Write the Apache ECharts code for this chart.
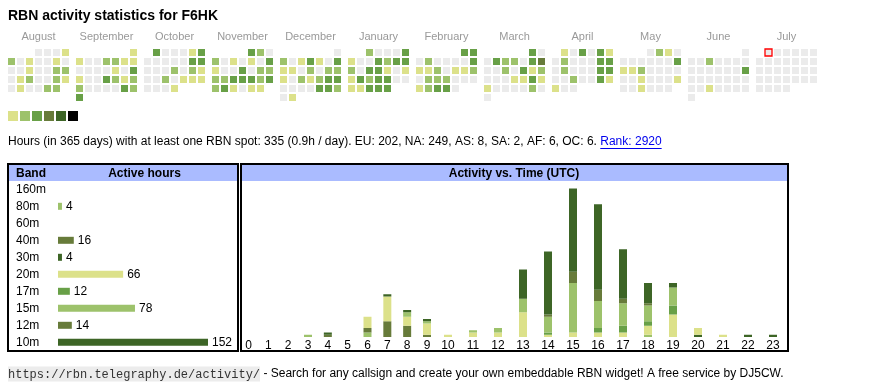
<!DOCTYPE html>
<html><head><meta charset="utf-8">
<script src="https://cdn.jsdelivr.net/npm/echarts@6/dist/echarts.min.js"></script>
<style>html,body{margin:0;padding:0;background:#fff;}#c{width:870px;height:390px;}</style>
</head><body><div id="c"></div>
<script>
// ---------- DATA ----------
const months = ['August','September','October','November','December','January','February','March','April','May','June','July'];
const monthYears = [2024,2024,2024,2024,2024,2025,2025,2025,2025,2025,2025,2025];
const monthNums = [7,8,9,10,11,0,1,2,3,4,5,6];
// activity level per day (0 = none, 1..5)
const lvAug = [0,0,0,1, 2,0,1,0,0,1,0, 0,0,1,0,0,2,2, 0,1,2,0,0,2,1, 0,1,0,0,2,2];
const lvSep = [1, 1,0,0,2,2,1,1, 0,0,0,0,1,0,3, 1,0,0,3,2,1,2, 2,0,0,0,0,3,2, 3];
const lvOct = [3,0,0,0,1,3, 0,0,0,0,0,3,3, 0,0,0,2,0,2,1, 0,0,2,0,1,1,1, 0,0,0,1];
const lvNov = [3,2,0, 2,0,1,0,1,0,3, 1,0,0,3,0,2,2, 2,2,3,3,3,2,3, 2,3,1,0,1,1];
const lvDec = [0, 2,0,1,3,1,0,3, 1,1,0,2,0,2,2, 1,0,2,1,2,3,3, 0,0,0,0,3,3,2, 0,1];
const lvJan = [2,0,0,0,3, 1,0,0,3,2,3,3, 2,0,3,3,1,0,1, 1,3,2,3,3,0,0, 1,1,3,3,3];
const lvFeb = [3,3, 0,2,0,0,0,0,3, 1,1,2,0,1,1,2, 0,2,2,2,0,0,0, 1,2,3,3,0];
const lvMar = [3,0, 0,3,2,2,0,3,4, 0,0,2,0,3,1,2, 0,0,0,1,1,3,1, 1,0,0,0,0,2,0, 0];
const lvApr = [1,0,3,0,3,1, 0,2,0,0,0,3,3, 0,2,0,0,0,3,3, 0,0,2,0,0,3,1, 1,0,0];
const lvMay = [0,2,1,0, 0,0,0,0,0,0,3, 1,1,2,0,0,0,0, 0,0,1,0,0,0,1, 0,0,1,0,0,0];
const lvJun = [0, 0,0,2,0,0,0,0, 0,0,0,0,0,0,3, 0,0,0,0,0,0,0, 0,0,1,0,0,0,0, 0];
const lvJul = [0,0,0,0,0,0,0,0,0,0,0,0,0,0,0,0,0,0,0,0,0,0,0,0,0,0,0,0,0,0,0];
const todayMonth = 11, todayDay = 1;
const legendLevels = [1,2,3,4,5,6];

const bands = ['160m','80m','60m','40m','30m','20m','17m','15m','12m','10m'];
const bandHours = [0,4,0,16,4,66,12,78,14,152];

const hours = ['0','1','2','3','4','5','6','7','8','9','10','11','12','13','14','15','16','17','18','19','20','21','22','23'];
const h160 = [0,0,0,0,0,0,0,0,0,0,0,0,0,0,0,0,0,0,0,0,0,0,0,0];
const h80  = [0,0,0,1,0,0,2,0,0,0,0,0,0,0,0,0,0,0,1,0,0,0,0,0];
const h60  = [0,0,0,0,0,0,0,0,0,0,0,0,0,0,0,0,0,0,0,0,0,0,0,0];
const h40  = [0,0,0,0,1,0,2,7,5,1,0,0,0,0,0,0,0,0,0,0,0,0,0,0];
const h30  = [0,0,0,0,1,0,0,0,0,0,0,0,0,0,0,0,0,0,0,0,1,0,1,1];
const h20  = [0,0,0,0,0,0,5,11,4,5,1,2,2,11,1,2,2,2,4,10,3,1,0,0];
const h17  = [0,0,0,0,0,0,0,0,0,0,0,0,0,0,1,0,2,3,2,4,0,0,0,0];
const h15  = [0,0,0,0,0,0,0,0,2,1,0,1,2,6,7,22,12,10,7,8,0,0,0,0];
const h12  = [0,0,0,0,0,0,0,0,0,0,0,0,0,0,1,5,5,2,1,0,0,0,0,0];
const h10  = [0,0,0,0,0,0,0,1,1,1,0,0,0,13,28,37,38,22,9,2,0,0,0,0];

const statsTotal = 335, statsPerDay = '0.9', statsDays = 365;
const contLabels = ['EU','NA','AS','SA','AF','OC'];
const contValues = [202,249,8,2,6,6];
const rank = 2920;

// ---------- STYLE ----------
const LV = ['#ebebeb','#dce18a','#9dc26b','#68a047','#677b3a','#3d6526','#000000'];
const bandColor = [LV[1],LV[2],LV[3],LV[4],LV[5],LV[1],LV[3],LV[2],LV[4],LV[5]];
const FONT = "'Liberation Sans', Arial, Helvetica, sans-serif";

const monthLevels = [lvAug,lvSep,lvOct,lvNov,lvDec,lvJan,lvFeb,lvMar,lvApr,lvMay,lvJun,lvJul];
const hourSeries = [h160,h80,h60,h40,h30,h20,h17,h15,h12,h10];

const grids = [], xAxes = [], yAxes = [], series = [];
const cols = ['0','1','2','3','4','5','6'];
const rows = ['0','1','2','3','4','5'];

monthLevels.forEach((lv, m) => {
  grids.push({left: 7 + 68*m, top: 48, width: 63, height: 54});
  xAxes.push({type:'category', gridIndex:m, data:cols, position:'top', show:true,
    axisLine:{show:false}, axisTick:{show:false}, axisLabel:{show:false}, splitLine:{show:false},
    name: months[m], nameLocation:'middle', nameGap: 6,
    nameTextStyle:{color:'#999', fontSize:11, fontFamily:FONT}});
  yAxes.push({type:'category', gridIndex:m, data:rows, inverse:true, show:false});
  const start = (new Date(monthYears[m], monthNums[m], 1).getDay() + 6) % 7;
  const data = lv.map((v, i) => {
    const idx = start + i;
    const item = {value:[idx % 7, Math.floor(idx/7), v], itemStyle:{color: LV[v], opacity:1}};
    if (m === todayMonth && i + 1 === todayDay) {
      item.itemStyle = {color: LV[0], borderColor:'#ff0000', borderWidth:1.3, opacity:1};
      item.symbolSize = 7;
    }
    return item;
  });
  series.push({type:'scatter', xAxisIndex:m, yAxisIndex:m, symbol:'rect', symbolSize:7, data, silent:true,
    itemStyle:{opacity:1}});
});

// legend squares
const gL = grids.length;
grids.push({left:7, top:110, width:72, height:12});
xAxes.push({type:'category', gridIndex:gL, data:legendLevels.map(String), show:false});
yAxes.push({type:'value', gridIndex:gL, min:0, max:1, show:false});
series.push({type:'scatter', xAxisIndex:gL, yAxisIndex:gL, symbol:'rect', symbolSize:10, itemStyle:{opacity:1},
  data: legendLevels.map((l,i)=>({value:[i,0.5], itemStyle:{color:LV[l], opacity:1}}))});

// band table bars
const gB = grids.length;
grids.push({left:58, top:180.8, width:150, height:170});
xAxes.push({type:'value', gridIndex:gB, min:0, max:152, show:false});
yAxes.push({type:'category', gridIndex:gB, data:bands, inverse:true,
  axisLine:{show:false}, axisTick:{show:false},
  axisLabel:{align:'left', margin:42, fontSize:12, color:'#000', fontFamily:FONT}});
series.push({type:'bar', xAxisIndex:gB, yAxisIndex:gB, barWidth:7,
  data: bandHours.map((v,i)=>({value:v, itemStyle:{color:bandColor[i]}})),
  label:{show:true, position:'right', distance:4, fontSize:12, color:'#000', fontFamily:FONT,
    formatter: p => p.value ? String(p.value) : ''}});

// hour charts (two grids: single-digit and double-digit columns)
const hourGrids = [
  {left:238.6, width:198.3, from:0, to:10},
  {left:435.5, width:350, from:10, to:24}
];
hourGrids.forEach((hg, k) => {
  const gi = grids.length;
  grids.push({left:hg.left, width:hg.width, top:179.5, height:157.5});
  xAxes.push({type:'category', gridIndex:gi, data:hours.slice(hg.from, hg.to),
    axisLine:{show:false}, axisTick:{show:false},
    axisLabel:{interval:0, margin:3, fontSize:12, color:'#000', fontFamily:FONT}});
  yAxes.push({type:'value', gridIndex:gi, min:0, max:70, show:false});
  hourSeries.forEach((hs, b) => {
    series.push({type:'bar', xAxisIndex:gi, yAxisIndex:gi, stack:'s'+k, barWidth:8,
      itemStyle:{color:bandColor[b]}, data: hs.slice(hg.from, hg.to)});
  });
});

// info text
const infoPrefix = 'Hours (in ' + statsDays + ' days) with at least one RBN spot: ' + statsTotal +
  ' (' + statsPerDay + 'h / day). ' + contLabels.map((c,i)=>c+': '+contValues[i]).join(', ') + '. ';
const linkText = 'Rank: ' + rank;
const cv = document.createElement('canvas').getContext('2d');
cv.font = '12px ' + FONT;
const prefixW = cv.measureText(infoPrefix).width;
const linkW = cv.measureText(linkText).width;

const footLink = 'https://rbn.telegraphy.de/activity/';
const footText = ' - Search for any callsign and create your own embeddable RBN widget! A free service by DJ5CW.';

const graphic = [
  {type:'text', x:8, y:16, style:{text:'RBN activity statistics for F6HK', font:'bold 14px '+FONT, fill:'#000', verticalAlign:'middle'}},
  {type:'text', x:8, y:142, style:{text:infoPrefix, font:'12px '+FONT, fill:'#000', verticalAlign:'middle'}},
  {type:'text', x:8+prefixW, y:142, style:{text:linkText, font:'12px '+FONT, fill:'#0000ee', verticalAlign:'middle'}},
  {type:'line', shape:{x1:8+prefixW, y1:148.5, x2:8+prefixW+linkW, y2:148.5}, style:{stroke:'#0000ee', lineWidth:1}},
  {type:'rect', shape:{x:9, y:165, width:228, height:16}, style:{fill:'#aabbff'}},
  {type:'rect', shape:{x:242, y:165, width:545, height:16}, style:{fill:'#aabbff'}},
  {type:'rect', shape:{x:8, y:164, width:230, height:187}, style:{fill:'none', stroke:'#000', lineWidth:2}, z:10},
  {type:'rect', shape:{x:241, y:164, width:547, height:187}, style:{fill:'none', stroke:'#000', lineWidth:2}, z:10},
  {type:'text', x:16, y:173.5, style:{text:'Band', font:'bold 12px '+FONT, fill:'#000', verticalAlign:'middle'}},
  {type:'text', x:144.5, y:173.5, style:{text:'Active hours', font:'bold 12px '+FONT, fill:'#000', align:'center', verticalAlign:'middle'}},
  {type:'text', x:514, y:173.5, style:{text:'Activity vs. Time (UTC)', font:'bold 12px '+FONT, fill:'#000', align:'center', verticalAlign:'middle'}},
  {type:'text', x:8, y:374, style:{
    text:'{c|'+footLink+'}{t|'+footText+'}', verticalAlign:'middle',
    rich:{
      c:{fontFamily:"'Liberation Mono', 'Courier New', monospace", fontSize:12, fill:'#333', backgroundColor:'#ececec', padding:[2,0,1,0]},
      t:{fontFamily:FONT, fontSize:12, fill:'#000'}
    }}}
];

const chart = echarts.init(document.getElementById('c'), null, {renderer:'canvas'});
chart.setOption({
  animation:false,
  backgroundColor:'#fff',
  grid:grids, xAxis:xAxes, yAxis:yAxes, series, graphic
});
</script>
</body></html>
